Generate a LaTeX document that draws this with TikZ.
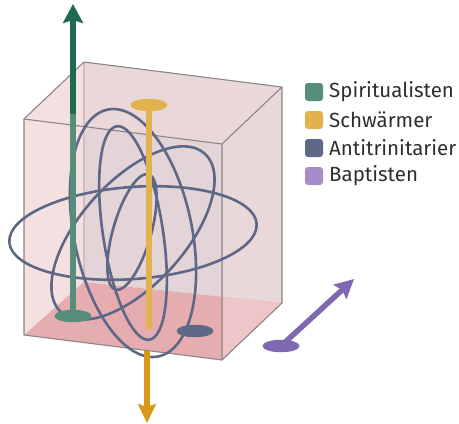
\documentclass[tikz,border=0pt]{standalone}
\usepackage{fontspec}
\setmainfont{Fira Sans}
\usetikzlibrary{arrows.meta,shapes.geometric}
\definecolor{slate}{HTML}{5E6786}
\definecolor{greenL}{HTML}{568E7B}
\definecolor{greenD}{HTML}{1F6B52}
\definecolor{yell}{HTML}{E2B24F}
\definecolor{orng}{HTML}{D8991A}
\definecolor{purp}{HTML}{7F68B0}
\definecolor{lav}{HTML}{A48DC8}
\definecolor{backc}{HTML}{E3D4D7}
\definecolor{leftc}{HTML}{F4E0E0}
\definecolor{topc}{HTML}{EAD7D9}
\definecolor{rightc}{HTML}{E9D8DA}
\definecolor{floorc}{HTML}{E5ADB0}
\definecolor{floorr}{HTML}{EDC6C8}
\definecolor{edgec}{HTML}{8C8585}
\definecolor{edgel}{HTML}{CDBFC1}
\definecolor{txt}{HTML}{2E2E2E}
\tikzset{
  ell/.style={draw=slate, line width=2.6pt},
  edge/.style={draw=edgec, line width=1.1pt, line join=round},
  disc/.style={ellipse, minimum width=37pt, minimum height=12.5pt, inner sep=0pt},
  bar/.style={line width=5.5pt},
  legsq/.style={rounded corners=3pt, minimum size=18pt, inner sep=0pt},
  legtxt/.style={anchor=west, text=txt, font=\fontsize{20.5}{24}\selectfont, inner sep=0pt},
}
\begin{document}
\begin{tikzpicture}[x=1pt,y=-1pt]
\useasboundingbox (0,0) rectangle (459,424);
% box corners
\coordinate (ftl) at (24,119);
\coordinate (ftr) at (222,144);
\coordinate (fbr) at (222,360);
\coordinate (fbl) at (24,335);
\coordinate (btl) at (84,62);
\coordinate (btr) at (282,87);
\coordinate (bbr) at (282,303);
\coordinate (bbl) at (84,282);
\coordinate (rfl) at (222,296.6);
% faces
\fill[backc] (btl) -- (btr) -- (bbr) -- (bbl) -- cycle;
\fill[topc] (ftl) -- (btl) -- (btr) -- (ftr) -- cycle;
\fill[leftc] (ftl) -- (btl) -- (bbl) -- (fbl) -- cycle;
\fill[rightc] (ftr) -- (btr) -- (bbr) -- (fbr) -- cycle;
\fill[floorc] (fbl) -- (bbl) -- (bbr) -- (fbr) -- cycle;
\fill[floorr] (rfl) -- (bbr) -- (fbr) -- cycle;
% edges
\draw[draw=edgel, line width=1.1pt] (btl) -- (bbl);
\draw[edge] (ftl) -- (ftr) -- (fbr) -- (fbl) -- cycle;
\draw[edge] (ftl) -- (btl) -- (btr) -- (ftr);
\draw[edge] (btr) -- (bbr) -- (fbr);
% orbits
\coordinate (cen) at (133,233);
\draw[ell, rotate around={4.3:(cen)}] (cen) ellipse [x radius=124, y radius=46];
\draw[ell, rotate around={47.8:(cen)}] (cen) ellipse [x radius=107, y radius=52];
\draw[ell, rotate around={101.6:(cen)}] (cen) ellipse [x radius=126, y radius=59];
\draw[ell, rotate around={98.7:(cen)}] (cen) ellipse [x radius=108, y radius=30];
\draw[ell, rotate around={74:(132,232)}] (132,232) ellipse [x radius=60, y radius=19];
% discs
\node[disc, fill=greenL] (gd) at (73,316) {};
\node[disc, fill=yell] (yd) at (149,105) {};
\node[disc, fill=slate] (sd) at (195,331) {};
\node[disc, fill=purp] (pd) at (281,346) {};
\coordinate (gmid) at (73,112);
\coordinate (gmid2) at (73,113.5);
\coordinate (gtip) at (73,4);
\coordinate (yend) at (149,329);
\coordinate (ostart) at (147,351);
\coordinate (otip) at (147,423);
\coordinate (ptip) at (354,279);
% bars and arrows
\draw[bar, greenL] (gd.center) -- (gmid);
\draw[bar, greenD, -{Stealth[length=19pt, width=20pt, inset=3pt]}] (gmid2) -- (gtip);
\draw[bar, yell] (yd.center) -- (yend);
\draw[bar, orng, -{Stealth[length=19pt, width=18pt, inset=3pt]}] (ostart) -- (otip);
\draw[bar, purp, -{Stealth[length=19pt, width=19pt, inset=3pt]}] (pd.center) -- (ptip);
% legend
\node[legsq, fill=greenL] (l1) at (314,92) {};
\node[legsq, fill=yell] (l2) at (314,120) {};
\node[legsq, fill=slate] (l3) at (314,148) {};
\node[legsq, fill=lav] (l4) at (314,176) {};
\node[legtxt] (t1) at (329,92) {Spiritualisten};
\node[legtxt] (t2) at (329,120) {Schwärmer};
\node[legtxt] (t3) at (329,148) {Antitrinitarier};
\node[legtxt] (t4) at (329,176) {Baptisten};
\end{tikzpicture}
\end{document}
